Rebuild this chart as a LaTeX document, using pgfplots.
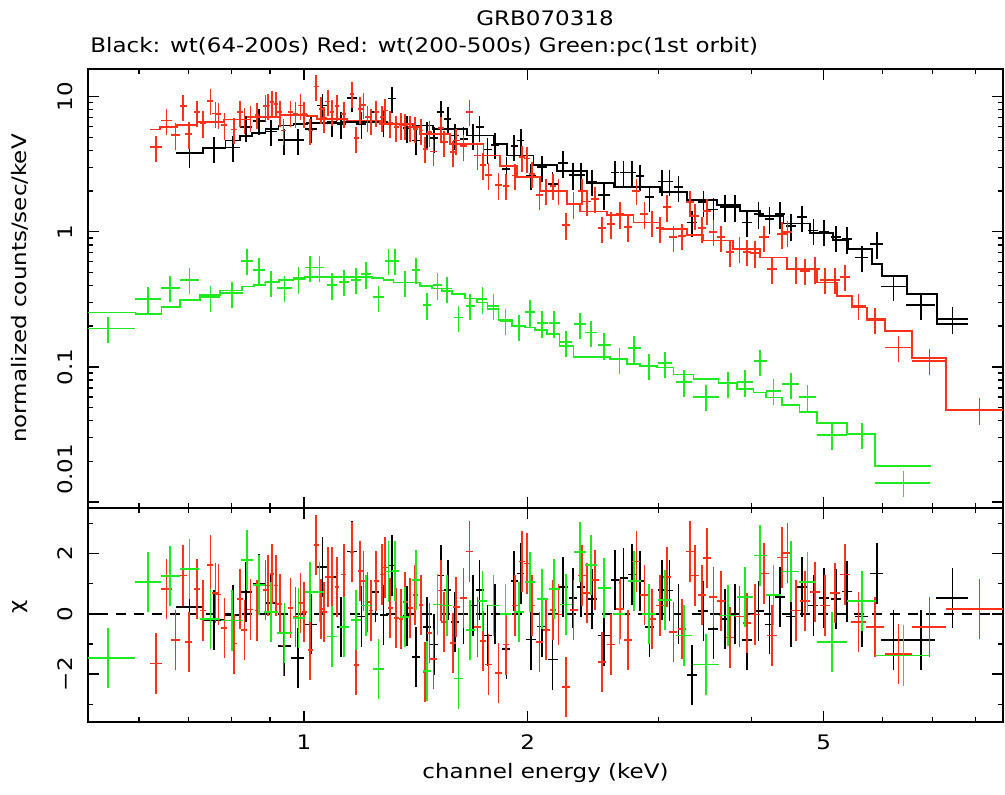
\documentclass[border=0pt]{standalone}
\usepackage{fontspec}
\setmainfont{DejaVu Sans}[FakeStretch=1.15]
\usepackage{pgfplots}
\usepackage{pgfplotstable}
\pgfplotsset{compat=1.18}
\definecolor{pgred}{RGB}{255,50,25}
\definecolor{pggreen}{RGB}{30,235,30}

% black: wt(64-200s)  columns: energy, half bin width, counts/s/keV, chi
\pgfplotstableread{
x ex y c
0.702 0.029 3.81 0.22
0.757 0.026 4.15 -0.20
0.803 0.0185 4.19 -0.03
0.836 0.0151 5.93 0.72
0.871 0.0175 6.61 0.99
0.903 0.0168 5.51 0.35
0.941 0.019 4.75 -1.07
0.981 0.0197 4.75 -1.46
1.023 0.019 5.79 -0.35
1.059 0.0164 8.58 1.56
1.092 0.0169 6.46 1.23
1.123 0.0156 6.25 -0.44
1.161 0.018 9.78 2.07
1.195 0.0185 6.25 -0.09
1.248 0.0155 7.66 0.72
1.280 0.0159 6.46 -0.05
1.315 0.016 9.70 1.60
1.376 0.017 5.85 -0.07
1.416 0.0175 4.72 -1.43
1.465 0.018 5.29 -0.44
1.495 0.0185 4.92 -1.02
1.529 0.0166 7.66 1.27
1.561 0.017 6.84 0.79
1.598 0.0198 5.14 -0.28
1.640 0.0203 4.86 0.00
1.688 0.021 5.14 0.28
1.723 0.0213 5.93 0.79
1.766 0.0219 4.05 -0.72
1.809 0.0224 4.39 0.00
1.872 0.023 2.91 -1.16
1.919 0.021 4.29 1.08
1.958 0.021 4.72 1.34
2.020 0.031 2.60 -0.85
2.090 0.032 3.00 -0.42
2.160 0.033 2.25 -1.52
2.230 0.0345 3.23 0.90
2.301 0.0285 2.63 0.53
2.358 0.029 2.63 0.90
2.440 0.0378 2.35 0.48
2.535 0.047 1.87 -0.72
2.623 0.0325 2.75 1.12
2.691 0.033 2.75 1.19
2.761 0.034 2.75 1.30
2.834 0.035 2.57 1.10
2.916 0.0406 1.80 -0.44
3.030 0.0375 2.35 0.79
3.102 0.0384 2.35 0.77
3.190 0.044 2.13 0.00
3.325 0.051 1.17 -2.04
3.446 0.053 1.65 0.09
3.555 0.055 1.46 -0.50
3.687 0.057 1.52 -0.17
3.802 0.059 1.52 0.00
3.942 0.061 1.17 -0.88
4.087 0.063 1.35 0.09
4.228 0.065 1.24 -0.35
4.370 0.068 1.35 0.55
4.517 0.070 1.10 -0.09
4.674 0.072 1.28 0.90
4.844 0.075 1.02 0.28
5.008 0.078 1.00 0.53
5.197 0.080 0.909 0.50
5.372 0.083 0.883 0.74
5.627 0.113 0.646 -0.09
5.894 0.119 0.811 1.34
6.205 0.24 0.394 -0.88
6.754 0.31 0.286 -0.88
7.447 0.365 0.2255 0.53
}\blackdata

% black model (left bin edge, value)
\pgfplotstableread{
e m
0.6739 3.81
0.7322 4.15
0.7845 4.72
0.8215 5.09
0.8519 5.38
0.8877 5.77
0.9241 6.10
0.9681 6.27
1.0099 6.35
1.1197 6.45
1.2672 6.30
1.4034 6.10
1.4932 5.77
1.6573 5.14
1.7989 4.46
1.8752 3.66
2.0367 3.12
2.1895 2.83
2.4025 2.29
2.6086 2.13
3.0143 1.96
3.2736 1.72
3.5932 1.58
3.8616 1.42
4.1088 1.30
4.4153 1.15
4.7951 0.98
5.1486 0.87
5.3998 0.745
5.8026 0.576
5.9855 0.472
6.4684 0.346
7.0963 0.207
7.8250 0.207
}\blackmodel

% red: wt(200-500s)
\pgfplotstableread{
x ex y c
0.6333 0.0115 4.22 -1.65
0.6534 0.0108 6.64 0.83
0.6719 0.0097 5.20 -0.86
0.6881 0.0075 8.49 1.27
0.7001 0.0070 5.29 -0.94
0.7187 0.0067 7.66 0.83
0.7322 0.0068 6.38 0.11
0.7489 0.0070 9.33 1.63
0.7606 0.0071 7.50 0.68
0.7677 0.0071 7.40 0.64
0.7820 0.0073 6.17 -0.47
0.8047 0.0075 5.70 -0.99
0.8198 0.0076 7.66 0.50
0.8318 0.0077 6.76 -0.53
0.8474 0.0079 7.03 0.14
0.8651 0.0061 7.33 0.11
0.8877 0.0062 8.49 0.79
0.8951 0.0063 8.58 0.94
0.9065 0.0063 9.08 1.32
0.9175 0.0064 8.83 0.94
0.9278 0.0065 7.66 0.33
0.9393 0.0066 5.60 -1.05
0.9592 0.0067 7.66 0.19
0.9741 0.0068 7.45 -0.11
0.9892 0.0069 8.58 0.35
1.0015 0.0070 7.45 0.05
1.0202 0.0071 5.60 -1.21
1.0394 0.0073 11.9 2.29
1.0547 0.0074 8.10 0.17
1.0655 0.0075 6.92 0.05
1.0765 0.0075 9.18 1.23
1.0911 0.0076 7.73 1.23
1.1081 0.0078 8.49 0.90
1.1311 0.0079 7.45 1.30
1.1609 0.0081 10.5 2.04
1.1763 0.0082 4.92 -1.71
1.1910 0.0083 8.10 1.43
1.2032 0.0084 8.69 1.08
1.2181 0.0085 7.03 0.40
1.2310 0.0086 6.64 0.11
1.2514 0.0088 7.66 1.08
1.2738 0.0089 7.03 1.30
1.2868 0.0090 7.90 1.54
1.3070 0.0091 6.38 0.20
1.3313 0.0093 5.93 -0.13
1.3508 0.0095 6.17 -0.17
1.3690 0.0096 6.10 0.40
1.3903 0.0097 5.93 0.20
1.4122 0.0099 5.77 0.63
1.4372 0.0101 5.61 0.30
1.4565 0.0102 4.10 -1.93
1.4761 0.0103 5.45 -0.64
1.4945 0.0151 3.92 -1.50
1.5290 0.0154 5.83 0.77
1.5446 0.0156 4.59 -0.28
1.5867 0.0160 3.87 -0.97
1.6032 0.0162 4.72 0.22
1.6399 0.0166 4.29 0.53
1.6704 0.0169 7.73 2.07
1.7124 0.0173 3.66 -0.44
1.7414 0.0176 3.12 -0.90
1.7717 0.0179 2.63 -1.68
1.8271 0.0185 2.22 -1.96
1.8714 0.0189 2.19 -1.02
1.9243 0.0194 2.60 0.28
1.9646 0.0198 3.56 1.74
1.9953 0.0202 3.49 1.67
2.0264 0.0205 2.68 0.28
2.0745 0.0210 1.87 -0.94
2.1180 0.0214 2.01 -0.53
2.1624 0.0218 2.19 0.13
2.2005 0.0222 2.01 -0.02
2.2534 0.0280 1.12 -2.42
2.3049 0.0286 1.60 0.13
2.3656 0.0293 2.01 1.27
2.4025 0.0298 1.67 0.68
2.4652 0.0306 1.75 1.12
2.5168 0.0312 1.06 -1.60
2.5879 0.0321 1.14 -1.02
2.6588 0.0330 1.35 0.17
2.7251 0.0338 1.08 -0.88
2.7995 0.0347 2.01 1.74
2.8700 0.0356 1.35 0.63
2.9376 0.0364 1.17 -0.17
3.0143 0.0374 1.06 0.28
3.0774 0.0382 1.52 1.21
3.1405 0.0389 0.909 -0.61
3.2232 0.0400 0.934 -0.50
3.3073 0.0410 1.65 2.07
3.3588 0.0416 1.31 1.27
3.4292 0.0425 1.06 0.63
3.4826 0.0432 1.43 1.85
3.5548 0.0441 1.00 0.55
3.6375 0.0451 0.909 0.42
3.7437 0.0464 0.704 -0.79
3.8530 0.0478 0.753 -0.09
3.9420 0.0489 0.711 -0.31
4.0450 0.0595 0.696 -0.02
4.1593 0.0611 0.909 1.34
4.2593 0.0626 0.529 -0.72
4.3928 0.0646 0.961 1.87
4.4704 0.0657 0.990 2.01
4.5920 0.0675 0.529 0.11
4.7217 0.0694 0.514 0.42
4.8697 0.0716 0.529 0.72
5.0222 0.0738 0.441 0.28
5.1807 0.0762 0.441 0.68
5.3434 0.0785 0.464 1.30
5.5683 0.129 0.283 -0.28
5.8637 0.166 0.223 -0.44
6.3040 0.261 0.139 -1.34
6.9357 0.368 0.111 -0.44
8.1000 0.800 0.048 0.17
}\reddata

\pgfplotstableread{
e m
0.6217 5.70
0.6413 5.93
0.6755 6.17
0.7187 6.52
0.7804 6.76
0.8474 7.03
0.9299 7.33
1.0099 7.20
1.0416 6.84
1.1432 6.64
1.2672 6.27
1.4047 5.93
1.4342 5.29
1.5735 4.46
1.7444 3.66
1.8366 3.08
1.9345 2.53
2.0794 2.01
2.2585 1.60
2.3530 1.41
2.5560 1.33
2.7753 1.17
3.0143 1.05
3.2736 0.945
3.4435 0.86
3.7784 0.745
4.1088 0.646
4.4623 0.529
4.8955 0.422
5.2081 0.335
5.4560 0.275
5.7148 0.226
6.0487 0.185
6.5690 0.117
7.3039 0.048
9.0000 0.048
}\redmodel

% green: pc (1st orbit)
\pgfplotstableread{
x ex y c
0.545 0.048 0.1925 -1.46
0.6174 0.025 0.317 1.05
0.6614 0.0195 0.385 1.25
0.7022 0.021 0.441 1.49
0.7489 0.0238 0.327 -0.18
0.8008 0.027 0.351 -0.22
0.8390 0.015 0.610 1.79
0.8713 0.016 0.523 0.96
0.9035 0.0187 0.422 0.05
0.9414 0.022 0.385 -0.63
0.9840 0.018 0.447 -0.13
1.0202 0.016 0.545 0.72
1.0500 0.016 0.545 0.72
1.0911 0.017 0.403 -0.75
1.1335 0.018 0.426 -0.44
1.1763 0.018 0.441 -0.20
1.2134 0.019 0.486 0.28
1.2604 0.020 0.327 -1.84
1.3002 0.015 0.610 1.40
1.3274 0.015 0.610 1.43
1.3690 0.022 0.422 -0.11
1.4165 0.018 0.523 1.12
1.4640 0.020 0.287 -1.89
1.5129 0.022 0.403 0.31
1.5576 0.022 0.381 0.28
1.6146 0.024 0.232 -2.15
1.6743 0.024 0.283 -0.53
1.7394 0.026 0.317 0.42
1.7991 0.028 0.283 0.28
1.8671 0.030 0.219 0.00
1.9461 0.030 0.199 0.06
2.0156 0.030 0.255 1.05
2.0921 0.035 0.211 0.50
2.1713 0.036 0.211 0.83
2.2534 0.040 0.152 0.31
2.3531 0.045 0.207 2.04
2.4322 0.045 0.180 1.63
2.5346 0.050 0.145 0.86
2.6561 0.050 0.114 0.00
2.7815 0.055 0.138 1.08
2.9107 0.060 0.1017 0.00
3.0610 0.065 0.1064 0.46
3.2462 0.080 0.0774 -0.72
3.4754 0.135 0.060 -1.68
3.7163 0.100 0.0753 -0.06
3.9219 0.100 0.0774 0.55
4.1088 0.080 0.110 1.93
4.2800 0.100 0.0664 0.63
4.5174 0.120 0.0744 1.40
4.7545 0.130 0.060 1.05
5.1323 0.238 0.0312 -0.94
5.6270 0.246 0.0317 0.42
6.4018 0.550 0.0139 -1.38
}\greendata

\pgfplotstableread{
e m
0.5000 0.253
0.5936 0.247
0.6433 0.278
0.6823 0.314
0.7244 0.340
0.7719 0.368
0.8258 0.394
0.8561 0.405
0.8877 0.426
0.9250 0.441
0.9689 0.452
1.0046 0.464
1.2349 0.452
1.2801 0.441
1.3203 0.422
1.4342 0.398
1.4871 0.381
1.5337 0.366
1.5819 0.346
1.6484 0.321
1.7093 0.300
1.7660 0.268
1.8271 0.223
1.9055 0.201
1.9849 0.196
2.0475 0.188
2.1229 0.175
2.2073 0.143
2.3049 0.119
2.5823 0.115
2.7189 0.105
2.8341 0.102
2.9834 0.099
3.1405 0.088
3.3411 0.081
3.6108 0.0757
3.8222 0.0689
4.0236 0.0645
4.1843 0.0594
4.3928 0.052
4.6387 0.0464
4.8955 0.0386
5.3718 0.0322
5.8637 0.0184
6.9661 0.0184
}\greenmodel

\begin{document}
\begin{tikzpicture}
\useasboundingbox (0,0) rectangle (502.5pt,397pt);
\begin{axis}[at={(44pt,143pt)}, anchor=south west,
  scale only axis, width=457.5pt, height=219.5pt,
  xmode=log, ymode=log,
  xmin=0.5126, xmax=8.71, ymin=0.00903, ymax=16.0,
  xtick={1,2,5}, minor xtick={0.6,0.7,0.8,0.9,3,4,6,7,8},
  xticklabels={},
  ytick={0.1,1,10}, yticklabels={0.1,1,10},
  minor ytick={0.02,0.03,0.04,0.05,0.06,0.07,0.08,0.09,0.2,0.3,0.4,0.5,0.6,0.7,0.8,0.9,2,3,4,5,6,7,8,9},
  extra y ticks={0.01}, extra y tick labels={0.01},
  extra y tick style={yticklabel style={anchor=south west}},
  tick align=inside, major tick length=5.5pt, minor tick length=2.5pt,
  tick style={black, line width=0.7pt},
  axis line style={line width=0.9pt},
  yticklabel style={xshift=-4pt, rotate=90, anchor=south},
  ylabel={normalized counts/sec/keV},
  ylabel style={at={(axis description cs:-0.0743,0.5)}, anchor=center},
]
\addplot[const plot mark left, no marks, color=black, line width=0.85pt] table[x=e, y=m] {\blackmodel};
\addplot[only marks, mark=*, mark size=0pt, mark options={draw=none,fill=none}, color=black, error bars/.cd, x dir=both, x explicit, y dir=both, y fixed relative=0.22, error mark=none, error bar style={line width=0.85pt}] table[x=x, y=y, x error=ex] {\blackdata};
\addplot[const plot mark left, no marks, color=pgred, line width=0.85pt] table[x=e, y=m] {\redmodel};
\addplot[only marks, mark=*, mark size=0pt, mark options={draw=none,fill=none}, color=pgred, error bars/.cd, x dir=both, x explicit, y dir=both, y fixed relative=0.22, error mark=none, error bar style={line width=0.85pt}] table[x=x, y=y, x error=ex] {\reddata};
\addplot[const plot mark left, no marks, color=pggreen, line width=0.85pt] table[x=e, y=m] {\greenmodel};
\addplot[only marks, mark=*, mark size=0pt, mark options={draw=none,fill=none}, color=pggreen, error bars/.cd, x dir=both, x explicit, y dir=both, y fixed relative=0.22, error mark=none, error bar style={line width=0.85pt}] table[x=x, y=y, x error=ex] {\greendata};
\end{axis}

\begin{axis}[at={(44pt,36pt)}, anchor=south west,
  scale only axis, width=457.5pt, height=107pt,
  xmode=log,
  xmin=0.5126, xmax=8.71, ymin=-3.59, ymax=3.51,
  xtick={1,2,5}, minor xtick={0.6,0.7,0.8,0.9,3,4,6,7,8},
  xticklabels={1,2,5},
  ytick={-2,0,2}, yticklabels={−2,0,2},
  minor ytick={-3,-1,1,3},
  tick align=inside, major tick length=5.5pt, minor tick length=2.5pt,
  tick style={black, line width=0.7pt},
  axis line style={line width=0.9pt},
  yticklabel style={xshift=-4pt, rotate=90, anchor=south},
  xticklabel style={yshift=-3pt},
  xlabel={channel energy (keV)},
  xlabel style={at={(axis description cs:0.5,-0.238)}, anchor=center},
  ylabel={χ},
  ylabel style={at={(axis description cs:-0.0743,0.537)}, anchor=center},
]
\addplot[black, line width=0.8pt, dash pattern=on 5pt off 4pt] coordinates {(0.4,0) (10,0)};
\addplot[only marks, mark=*, mark size=0pt, mark options={draw=none,fill=none}, color=black, error bars/.cd, x dir=both, x explicit, y dir=both, y fixed=1, error mark=none, error bar style={line width=0.85pt}] table[x=x, y=c, x error=ex] {\blackdata};
\addplot[only marks, mark=*, mark size=0pt, mark options={draw=none,fill=none}, color=pgred, error bars/.cd, x dir=both, x explicit, y dir=both, y fixed=1, error mark=none, error bar style={line width=0.85pt}] table[x=x, y=c, x error=ex] {\reddata};
\addplot[only marks, mark=*, mark size=0pt, mark options={draw=none,fill=none}, color=pggreen, error bars/.cd, x dir=both, x explicit, y dir=both, y fixed=1, error mark=none, error bar style={line width=0.85pt}] table[x=x, y=c, x error=ex] {\greendata};
\end{axis}

\node at (272.5pt,388pt) {GRB070318};
\node[anchor=west, inner sep=0pt] at (45pt,373.5pt) {Black: wt(64-200s) Red: wt(200-500s) Green:pc(1st orbit)};
\end{tikzpicture}
\end{document}
